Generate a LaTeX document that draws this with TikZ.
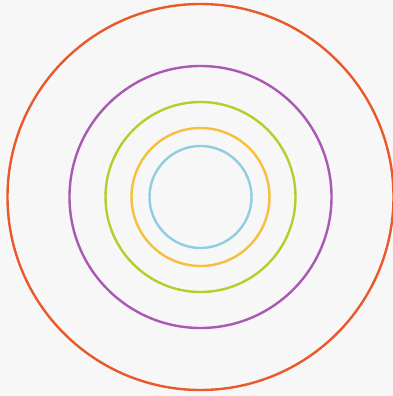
\documentclass[tikz,border=0pt]{standalone}
\definecolor{bg}{HTML}{F7F7F7}
\definecolor{corange}{HTML}{E85A2C}
\definecolor{cpurple}{HTML}{A958B3}
\definecolor{cgreen}{HTML}{B3CF2B}
\definecolor{cyellow}{HTML}{F6BF3C}
\definecolor{cblue}{HTML}{8FCFDD}
\begin{document}
\begin{tikzpicture}[x=1pt,y=-1pt,ring/.style={line width=2.4pt}]
\fill[bg] (0,0) rectangle (393,396);
\useasboundingbox (0,0) rectangle (393,396);
\coordinate (c) at (200.5,197);
\draw[ring,corange] (c) circle[radius=193];
\draw[ring,cpurple] (c) circle[radius=131];
\draw[ring,cgreen] (c) circle[radius=95];
\draw[ring,cyellow] (c) circle[radius=69];
\draw[ring,cblue] (c) circle[radius=51];
\end{tikzpicture}
\end{document}
